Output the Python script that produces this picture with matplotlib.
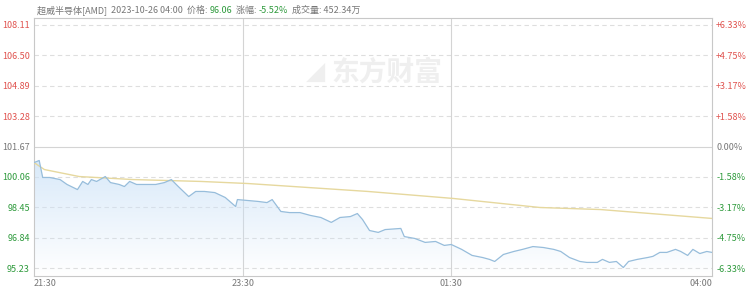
import numpy as np
import matplotlib
matplotlib.use("Agg")
import matplotlib.pyplot as plt
from matplotlib.patches import Polygon

plt.rcParams['font.family'] = ['Noto Sans CJK SC', 'DejaVu Sans']

# minutes after 21:30 and prices
minutes = [0, 3, 5, 9, 15, 19, 25, 28, 31, 33, 36, 41, 44, 49, 52, 55, 59, 65, 70, 75,
           79, 83, 89, 93, 98, 104, 110, 116, 117, 123, 129, 134, 137, 142, 147, 153,
           159, 165, 171, 176, 182, 186, 189, 193, 198, 202, 211, 213, 219, 225, 231,
           236, 240, 246, 252, 258, 262, 265, 270, 276, 281, 287, 293, 299, 303, 308,
           314, 318, 324, 327, 331, 335, 339, 342, 347, 353, 356, 360, 364, 369, 372,
           376, 379, 383, 387, 390]
prices = [100.82, 100.93, 100.03, 100.03, 99.92, 99.66, 99.39, 99.82, 99.66, 99.92,
          99.82, 100.08, 99.76, 99.66, 99.55, 99.82, 99.66, 99.66, 99.66, 99.76,
          99.92, 99.55, 99.02, 99.29, 99.29, 99.23, 98.97, 98.49, 98.86, 98.81,
          98.76, 98.70, 98.86, 98.23, 98.17, 98.17, 98.02, 97.91, 97.65, 97.91,
          97.96, 98.12, 97.80, 97.22, 97.12, 97.27, 97.33, 96.90, 96.80, 96.59,
          96.64, 96.43, 96.48, 96.22, 95.90, 95.79, 95.69, 95.58, 95.95, 96.11,
          96.22, 96.37, 96.32, 96.22, 96.11, 95.79, 95.58, 95.53, 95.53, 95.69,
          95.53, 95.58, 95.26, 95.58, 95.69, 95.79, 95.85, 96.06, 96.06, 96.22,
          96.11, 95.90, 96.22, 96.00, 96.11, 96.06]

avg_minutes = [0, 6, 26, 57, 96, 123, 192, 241, 291, 326, 390]
avg_prices = [100.82, 100.45, 100.08, 99.92, 99.82, 99.71, 99.29, 98.92, 98.44, 98.33, 97.86]

pre_close = 101.67
left_ticks = [108.11, 106.50, 104.89, 103.28, 101.67, 100.06, 98.45, 96.84, 95.23]
right_ticks = ["+6.33%", "+4.75%", "+3.17%", "+1.58%", "0.00%", "-1.58%", "-3.17%", "-4.75%", "-6.33%"]
x_ticks = [0, 120, 240, 390]
x_labels = ["21:30", "23:30", "01:30", "04:00"]

red = "#e0534f"
green = "#2e9a3c"
grey = "#777777"

fig = plt.figure(figsize=(7.5, 2.88), dpi=100)
ax = fig.add_axes([34 / 750, 1 - 276 / 288, 678 / 750, 258 / 288])
ymin, ymax = 94.81, 108.48
ax.set_xlim(0, 390)
ax.set_ylim(ymin, ymax)

# grid
for v in left_ticks:
    if v == pre_close:
        ax.axhline(v, color="#d4d4d4", lw=0.8, zorder=1)
    else:
        ax.axhline(v, color="#dedede", lw=0.8, ls=(0, (4, 3)), zorder=1)
for v in x_ticks[1:3]:
    ax.axvline(v, color="#d4d4d4", lw=0.8, zorder=1)

# gradient fill under price line
top = max(prices)
grad = np.zeros((100, 2, 4))
grad[:, :, 0] = 0.80
grad[:, :, 1] = 0.89
grad[:, :, 2] = 0.97
grad[:, :, 3] = np.linspace(0.75, 0.0, 100)[:, None]
img = ax.imshow(grad, extent=[0, 390, ymin, top], aspect="auto", origin="upper", zorder=2)
poly = Polygon(list(zip(minutes, prices)) + [(390, ymin), (0, ymin)], closed=True,
               facecolor="none", edgecolor="none")
ax.add_patch(poly)
img.set_clip_path(poly)

ax.plot(avg_minutes, avg_prices, color="#e6d89e", lw=1.0, zorder=3)
ax.plot(minutes, prices, color="#97bddb", lw=0.9, zorder=4)

# watermark
ax.text(0.52, 0.79, "东方财富", transform=ax.transAxes, fontsize=20, fontweight="bold",
        color="#efefef", ha="center", va="center", zorder=0)
ax.text(0.415, 0.79, "◢", transform=ax.transAxes, fontsize=18,
        color="#efefef", ha="center", va="center", zorder=0, family="DejaVu Sans")

for s in ax.spines.values():
    s.set_color("#c8c8c8")
    s.set_linewidth(0.8)

ax.set_yticks(left_ticks)
ax.set_yticklabels(["%.2f" % v for v in left_ticks])
ax.tick_params(axis="y", length=0, pad=3, labelsize=6.5)
for lab, v in zip(ax.get_yticklabels(), left_ticks):
    lab.set_color(red if v > pre_close else (grey if v == pre_close else green))

ax2 = ax.twinx()
ax2.set_ylim(ymin, ymax)
ax2.set_yticks(left_ticks)
ax2.set_yticklabels(right_ticks)
ax2.tick_params(axis="y", length=0, pad=3, labelsize=6.5)
for s in ax2.spines.values():
    s.set_visible(False)
for lab, v in zip(ax2.get_yticklabels(), left_ticks):
    lab.set_color(red if v > pre_close else (grey if v == pre_close else green))

ax.set_xticks(x_ticks)
ax.set_xticklabels(x_labels)
ax.tick_params(axis="x", length=0, pad=2, labelsize=6.5, labelcolor=grey)
xl = ax.get_xticklabels()
xl[0].set_ha("left")
xl[-1].set_ha("right")

# header line
parts = [("超威半导体[AMD]  ", grey), ("2023-10-26 04:00  ", grey), ("价格: ", grey),
         ("96.06", green), ("  涨幅: ", grey), ("-5.52%", green), ("  成交量: 452.34万", grey)]
t = fig.text(37 / 750, 1 - 13 / 288, parts[0][0], fontsize=6.5, color=parts[0][1], va="baseline")
for txt, c in parts[1:]:
    t = ax.annotate(txt, xy=(1, 0), xycoords=t, va="bottom", ha="left",
                    fontsize=6.5, color=c, annotation_clip=False)

fig.savefig("out.png", dpi=100)
